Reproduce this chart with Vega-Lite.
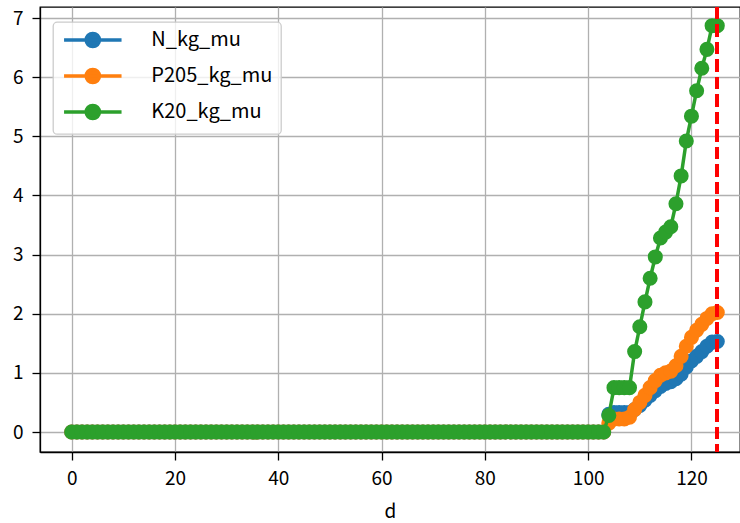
{
  "$schema": "https://vega.github.io/schema/vega-lite/v6.json",
  "autosize": "none",
  "padding": {"left": 40, "top": 7, "right": 0, "bottom": 71},
  "width": 700,
  "height": 445,
  "background": "white",
  "data": {
    "values": [
      {"d":0,"N_kg_mu":0,"P205_kg_mu":0,"K20_kg_mu":0},
      {"d":1,"N_kg_mu":0,"P205_kg_mu":0,"K20_kg_mu":0},
      {"d":2,"N_kg_mu":0,"P205_kg_mu":0,"K20_kg_mu":0},
      {"d":3,"N_kg_mu":0,"P205_kg_mu":0,"K20_kg_mu":0},
      {"d":4,"N_kg_mu":0,"P205_kg_mu":0,"K20_kg_mu":0},
      {"d":5,"N_kg_mu":0,"P205_kg_mu":0,"K20_kg_mu":0},
      {"d":6,"N_kg_mu":0,"P205_kg_mu":0,"K20_kg_mu":0},
      {"d":7,"N_kg_mu":0,"P205_kg_mu":0,"K20_kg_mu":0},
      {"d":8,"N_kg_mu":0,"P205_kg_mu":0,"K20_kg_mu":0},
      {"d":9,"N_kg_mu":0,"P205_kg_mu":0,"K20_kg_mu":0},
      {"d":10,"N_kg_mu":0,"P205_kg_mu":0,"K20_kg_mu":0},
      {"d":11,"N_kg_mu":0,"P205_kg_mu":0,"K20_kg_mu":0},
      {"d":12,"N_kg_mu":0,"P205_kg_mu":0,"K20_kg_mu":0},
      {"d":13,"N_kg_mu":0,"P205_kg_mu":0,"K20_kg_mu":0},
      {"d":14,"N_kg_mu":0,"P205_kg_mu":0,"K20_kg_mu":0},
      {"d":15,"N_kg_mu":0,"P205_kg_mu":0,"K20_kg_mu":0},
      {"d":16,"N_kg_mu":0,"P205_kg_mu":0,"K20_kg_mu":0},
      {"d":17,"N_kg_mu":0,"P205_kg_mu":0,"K20_kg_mu":0},
      {"d":18,"N_kg_mu":0,"P205_kg_mu":0,"K20_kg_mu":0},
      {"d":19,"N_kg_mu":0,"P205_kg_mu":0,"K20_kg_mu":0},
      {"d":20,"N_kg_mu":0,"P205_kg_mu":0,"K20_kg_mu":0},
      {"d":21,"N_kg_mu":0,"P205_kg_mu":0,"K20_kg_mu":0},
      {"d":22,"N_kg_mu":0,"P205_kg_mu":0,"K20_kg_mu":0},
      {"d":23,"N_kg_mu":0,"P205_kg_mu":0,"K20_kg_mu":0},
      {"d":24,"N_kg_mu":0,"P205_kg_mu":0,"K20_kg_mu":0},
      {"d":25,"N_kg_mu":0,"P205_kg_mu":0,"K20_kg_mu":0},
      {"d":26,"N_kg_mu":0,"P205_kg_mu":0,"K20_kg_mu":0},
      {"d":27,"N_kg_mu":0,"P205_kg_mu":0,"K20_kg_mu":0},
      {"d":28,"N_kg_mu":0,"P205_kg_mu":0,"K20_kg_mu":0},
      {"d":29,"N_kg_mu":0,"P205_kg_mu":0,"K20_kg_mu":0},
      {"d":30,"N_kg_mu":0,"P205_kg_mu":0,"K20_kg_mu":0},
      {"d":31,"N_kg_mu":0,"P205_kg_mu":0,"K20_kg_mu":0},
      {"d":32,"N_kg_mu":0,"P205_kg_mu":0,"K20_kg_mu":0},
      {"d":33,"N_kg_mu":0,"P205_kg_mu":0,"K20_kg_mu":0},
      {"d":34,"N_kg_mu":0,"P205_kg_mu":0,"K20_kg_mu":0},
      {"d":35,"N_kg_mu":0,"P205_kg_mu":0,"K20_kg_mu":0},
      {"d":36,"N_kg_mu":0,"P205_kg_mu":0,"K20_kg_mu":0},
      {"d":37,"N_kg_mu":0,"P205_kg_mu":0,"K20_kg_mu":0},
      {"d":38,"N_kg_mu":0,"P205_kg_mu":0,"K20_kg_mu":0},
      {"d":39,"N_kg_mu":0,"P205_kg_mu":0,"K20_kg_mu":0},
      {"d":40,"N_kg_mu":0,"P205_kg_mu":0,"K20_kg_mu":0},
      {"d":41,"N_kg_mu":0,"P205_kg_mu":0,"K20_kg_mu":0},
      {"d":42,"N_kg_mu":0,"P205_kg_mu":0,"K20_kg_mu":0},
      {"d":43,"N_kg_mu":0,"P205_kg_mu":0,"K20_kg_mu":0},
      {"d":44,"N_kg_mu":0,"P205_kg_mu":0,"K20_kg_mu":0},
      {"d":45,"N_kg_mu":0,"P205_kg_mu":0,"K20_kg_mu":0},
      {"d":46,"N_kg_mu":0,"P205_kg_mu":0,"K20_kg_mu":0},
      {"d":47,"N_kg_mu":0,"P205_kg_mu":0,"K20_kg_mu":0},
      {"d":48,"N_kg_mu":0,"P205_kg_mu":0,"K20_kg_mu":0},
      {"d":49,"N_kg_mu":0,"P205_kg_mu":0,"K20_kg_mu":0},
      {"d":50,"N_kg_mu":0,"P205_kg_mu":0,"K20_kg_mu":0},
      {"d":51,"N_kg_mu":0,"P205_kg_mu":0,"K20_kg_mu":0},
      {"d":52,"N_kg_mu":0,"P205_kg_mu":0,"K20_kg_mu":0},
      {"d":53,"N_kg_mu":0,"P205_kg_mu":0,"K20_kg_mu":0},
      {"d":54,"N_kg_mu":0,"P205_kg_mu":0,"K20_kg_mu":0},
      {"d":55,"N_kg_mu":0,"P205_kg_mu":0,"K20_kg_mu":0},
      {"d":56,"N_kg_mu":0,"P205_kg_mu":0,"K20_kg_mu":0},
      {"d":57,"N_kg_mu":0,"P205_kg_mu":0,"K20_kg_mu":0},
      {"d":58,"N_kg_mu":0,"P205_kg_mu":0,"K20_kg_mu":0},
      {"d":59,"N_kg_mu":0,"P205_kg_mu":0,"K20_kg_mu":0},
      {"d":60,"N_kg_mu":0,"P205_kg_mu":0,"K20_kg_mu":0},
      {"d":61,"N_kg_mu":0,"P205_kg_mu":0,"K20_kg_mu":0},
      {"d":62,"N_kg_mu":0,"P205_kg_mu":0,"K20_kg_mu":0},
      {"d":63,"N_kg_mu":0,"P205_kg_mu":0,"K20_kg_mu":0},
      {"d":64,"N_kg_mu":0,"P205_kg_mu":0,"K20_kg_mu":0},
      {"d":65,"N_kg_mu":0,"P205_kg_mu":0,"K20_kg_mu":0},
      {"d":66,"N_kg_mu":0,"P205_kg_mu":0,"K20_kg_mu":0},
      {"d":67,"N_kg_mu":0,"P205_kg_mu":0,"K20_kg_mu":0},
      {"d":68,"N_kg_mu":0,"P205_kg_mu":0,"K20_kg_mu":0},
      {"d":69,"N_kg_mu":0,"P205_kg_mu":0,"K20_kg_mu":0},
      {"d":70,"N_kg_mu":0,"P205_kg_mu":0,"K20_kg_mu":0},
      {"d":71,"N_kg_mu":0,"P205_kg_mu":0,"K20_kg_mu":0},
      {"d":72,"N_kg_mu":0,"P205_kg_mu":0,"K20_kg_mu":0},
      {"d":73,"N_kg_mu":0,"P205_kg_mu":0,"K20_kg_mu":0},
      {"d":74,"N_kg_mu":0,"P205_kg_mu":0,"K20_kg_mu":0},
      {"d":75,"N_kg_mu":0,"P205_kg_mu":0,"K20_kg_mu":0},
      {"d":76,"N_kg_mu":0,"P205_kg_mu":0,"K20_kg_mu":0},
      {"d":77,"N_kg_mu":0,"P205_kg_mu":0,"K20_kg_mu":0},
      {"d":78,"N_kg_mu":0,"P205_kg_mu":0,"K20_kg_mu":0},
      {"d":79,"N_kg_mu":0,"P205_kg_mu":0,"K20_kg_mu":0},
      {"d":80,"N_kg_mu":0,"P205_kg_mu":0,"K20_kg_mu":0},
      {"d":81,"N_kg_mu":0,"P205_kg_mu":0,"K20_kg_mu":0},
      {"d":82,"N_kg_mu":0,"P205_kg_mu":0,"K20_kg_mu":0},
      {"d":83,"N_kg_mu":0,"P205_kg_mu":0,"K20_kg_mu":0},
      {"d":84,"N_kg_mu":0,"P205_kg_mu":0,"K20_kg_mu":0},
      {"d":85,"N_kg_mu":0,"P205_kg_mu":0,"K20_kg_mu":0},
      {"d":86,"N_kg_mu":0,"P205_kg_mu":0,"K20_kg_mu":0},
      {"d":87,"N_kg_mu":0,"P205_kg_mu":0,"K20_kg_mu":0},
      {"d":88,"N_kg_mu":0,"P205_kg_mu":0,"K20_kg_mu":0},
      {"d":89,"N_kg_mu":0,"P205_kg_mu":0,"K20_kg_mu":0},
      {"d":90,"N_kg_mu":0,"P205_kg_mu":0,"K20_kg_mu":0},
      {"d":91,"N_kg_mu":0,"P205_kg_mu":0,"K20_kg_mu":0},
      {"d":92,"N_kg_mu":0,"P205_kg_mu":0,"K20_kg_mu":0},
      {"d":93,"N_kg_mu":0,"P205_kg_mu":0,"K20_kg_mu":0},
      {"d":94,"N_kg_mu":0,"P205_kg_mu":0,"K20_kg_mu":0},
      {"d":95,"N_kg_mu":0,"P205_kg_mu":0,"K20_kg_mu":0},
      {"d":96,"N_kg_mu":0,"P205_kg_mu":0,"K20_kg_mu":0},
      {"d":97,"N_kg_mu":0,"P205_kg_mu":0,"K20_kg_mu":0},
      {"d":98,"N_kg_mu":0,"P205_kg_mu":0,"K20_kg_mu":0},
      {"d":99,"N_kg_mu":0,"P205_kg_mu":0,"K20_kg_mu":0},
      {"d":100,"N_kg_mu":0,"P205_kg_mu":0,"K20_kg_mu":0},
      {"d":101,"N_kg_mu":0,"P205_kg_mu":0,"K20_kg_mu":0},
      {"d":102,"N_kg_mu":0,"P205_kg_mu":0,"K20_kg_mu":0},
      {"d":103,"N_kg_mu":0,"P205_kg_mu":0,"K20_kg_mu":0},
      {"d":104,"N_kg_mu":0.3,"P205_kg_mu":0.15,"K20_kg_mu":0.28},
      {"d":105,"N_kg_mu":0.33,"P205_kg_mu":0.22,"K20_kg_mu":0.75},
      {"d":106,"N_kg_mu":0.33,"P205_kg_mu":0.22,"K20_kg_mu":0.75},
      {"d":107,"N_kg_mu":0.33,"P205_kg_mu":0.22,"K20_kg_mu":0.75},
      {"d":108,"N_kg_mu":0.33,"P205_kg_mu":0.25,"K20_kg_mu":0.75},
      {"d":109,"N_kg_mu":0.38,"P205_kg_mu":0.38,"K20_kg_mu":1.36},
      {"d":110,"N_kg_mu":0.45,"P205_kg_mu":0.5,"K20_kg_mu":1.78},
      {"d":111,"N_kg_mu":0.54,"P205_kg_mu":0.62,"K20_kg_mu":2.2},
      {"d":112,"N_kg_mu":0.62,"P205_kg_mu":0.75,"K20_kg_mu":2.6},
      {"d":113,"N_kg_mu":0.7,"P205_kg_mu":0.87,"K20_kg_mu":2.96},
      {"d":114,"N_kg_mu":0.77,"P205_kg_mu":0.96,"K20_kg_mu":3.28},
      {"d":115,"N_kg_mu":0.82,"P205_kg_mu":1.0,"K20_kg_mu":3.38},
      {"d":116,"N_kg_mu":0.85,"P205_kg_mu":1.03,"K20_kg_mu":3.47},
      {"d":117,"N_kg_mu":0.9,"P205_kg_mu":1.12,"K20_kg_mu":3.86},
      {"d":118,"N_kg_mu":0.98,"P205_kg_mu":1.28,"K20_kg_mu":4.33},
      {"d":119,"N_kg_mu":1.1,"P205_kg_mu":1.45,"K20_kg_mu":4.92},
      {"d":120,"N_kg_mu":1.2,"P205_kg_mu":1.6,"K20_kg_mu":5.34},
      {"d":121,"N_kg_mu":1.28,"P205_kg_mu":1.72,"K20_kg_mu":5.77},
      {"d":122,"N_kg_mu":1.36,"P205_kg_mu":1.82,"K20_kg_mu":6.15},
      {"d":123,"N_kg_mu":1.45,"P205_kg_mu":1.92,"K20_kg_mu":6.47},
      {"d":124,"N_kg_mu":1.52,"P205_kg_mu":2.0,"K20_kg_mu":6.87},
      {"d":125,"N_kg_mu":1.53,"P205_kg_mu":2.02,"K20_kg_mu":6.87}
    ]
  },
  "transform": [
    {"fold": ["N_kg_mu", "P205_kg_mu", "K20_kg_mu"], "as": ["series", "value"]}
  ],
  "encoding": {
    "x": {
      "field": "d", "type": "quantitative",
      "scale": {"domain": [-6.14, 129.4], "nice": false, "zero": false},
      "axis": {"values": [0, 20, 40, 60, 80, 100, 120], "title": "d"}
    },
    "y": {
      "field": "value", "type": "quantitative",
      "scale": {"domain": [-0.338, 7.186], "nice": false, "zero": false},
      "axis": {"values": [0, 1, 2, 3, 4, 5, 6, 7], "title": null}
    },
    "color": {
      "field": "series", "type": "nominal",
      "scale": {"domain": ["N_kg_mu", "P205_kg_mu", "K20_kg_mu"], "range": ["#1f77b4", "#ff7f0e", "#2ca02c"]},
      "legend": {
        "title": null, "orient": "none", "legendX": 13, "legendY": 15,
        "encode": {
          "symbols": {"update": {"fill": {"scale": "color", "field": "value"}, "stroke": {"scale": "color", "field": "value"}, "opacity": {"value": 1}}}
        }
      }
    }
  },
  "layer": [
    {"transform": [{"filter": "datum.series === 'N_kg_mu'"}], "mark": {"type": "line", "strokeWidth": 3.5}},
    {"transform": [{"filter": "datum.series === 'N_kg_mu'"}], "mark": {"type": "point", "filled": true, "size": 227, "opacity": 1, "shape": "circle"}},
    {"transform": [{"filter": "datum.series === 'P205_kg_mu'"}], "mark": {"type": "line", "strokeWidth": 3.5}},
    {"transform": [{"filter": "datum.series === 'P205_kg_mu'"}], "mark": {"type": "point", "filled": true, "size": 227, "opacity": 1, "shape": "circle"}},
    {"transform": [{"filter": "datum.series === 'K20_kg_mu'"}], "mark": {"type": "line", "strokeWidth": 3.5}},
    {"transform": [{"filter": "datum.series === 'K20_kg_mu'"}], "mark": {"type": "point", "filled": true, "size": 227, "opacity": 1, "shape": "circle"}},
    {
      "mark": {"type": "rule", "color": "#ff0000", "strokeWidth": 3.2, "strokeDash": [12, 5.5]},
      "encoding": {"x": {"datum": 125}, "y": null, "color": null}
    }
  ],
  "config": {
    "font": "Noto Sans CJK JP",
    "view": {"stroke": "black", "strokeWidth": 1.3},
    "axis": {
      "labelFont": "Noto Sans CJK JP", "labelFontSize": 19, "labelColor": "black",
      "titleFont": "Noto Sans CJK JP", "titleFontSize": 19, "titleFontWeight": "normal", "titleColor": "black",
      "tickSize": 8, "tickWidth": 1.3, "tickColor": "black",
      "domainColor": "black", "domainWidth": 1.3,
      "gridColor": "#b0b0b0", "gridWidth": 1.3, "gridOpacity": 1,
      "labelFlush": false, "labelOverlap": false, "zindex": 0
    },
    "axisX": {"labelPadding": 9, "titlePadding": 14},
    "axisY": {"labelPadding": 9},
    "legend": {
      "labelFont": "Noto Sans CJK JP", "labelFontSize": 20, "labelColor": "black",
      "symbolType": "M-4.79,0L4.79,0M1.12,0A1.12,1.12,0,1,1,-1.12,0A1.12,1.12,0,1,1,1.12,0Z",
      "symbolSize": 144, "symbolStrokeWidth": 3.3, "symbolOpacity": 1,
      "symbolOffset": 21.8, "labelOffset": 48.5,
      "padding": 8, "rowPadding": 8,
      "fillColor": "rgba(255,255,255,0.8)", "strokeColor": "#cccccc", "strokeWidth": 1.3, "cornerRadius": 4
    }
  }
}
